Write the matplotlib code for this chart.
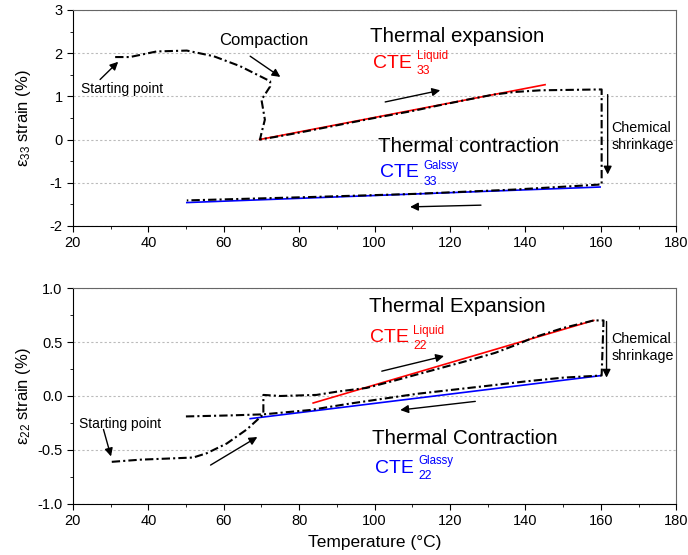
import matplotlib
matplotlib.use("Agg")
import matplotlib.pyplot as plt
from matplotlib.ticker import MultipleLocator, FormatStrFormatter

plt.rcParams.update({"font.family": "Liberation Sans", "mathtext.default": "regular",
                     "axes.unicode_minus": False})

# curva medida eps33 (aquecimento, compactacao, queda quimica, resfriamento)
T33 = [31.2, 35.1, 42.2, 50.2, 57.3, 64.3, 72.3, 72.3, 70.0, 70.9, 70.0, 69.6, 75, 80, 90,
       100, 110, 117, 125, 131.5, 137, 144, 152, 160.2, 160.2, 154.5, 136.8, 110.3, 83.7, 50.2]
E33 = [1.91, 1.91, 2.04, 2.06, 1.93, 1.70, 1.35, 1.23, 0.92, 0.46, 0.15, 0.0, 0.08, 0.16, 0.33,
       0.50, 0.66, 0.79, 0.93, 1.04, 1.10, 1.14, 1.15, 1.16, -1.04, -1.07, -1.16, -1.26, -1.33, -1.41]
LIQ33_T, LIQ33_E = [69.5, 145.2], [0.0, 1.27]
GLA33_T, GLA33_E = [50.2, 159.8], [-1.46, -1.10]

# curva medida eps22
T22 = [30.3, 37.8, 44.9, 51.9, 55.5, 60.8, 66.1, 70.5, 70.5, 75, 84.6, 90, 97.9, 105, 115, 125,
       132, 138, 142, 150, 158.1, 160.7, 160.2, 150, 140, 128.9, 111.2, 93.5, 82.9, 70.5, 61.6, 49.2]
E22 = [-0.61, -0.59, -0.58, -0.57, -0.53, -0.44, -0.31, -0.17, 0.01, 0.0, 0.01, 0.04, 0.075, 0.14,
       0.235, 0.33, 0.40, 0.48, 0.54, 0.63, 0.70, 0.70, 0.19, 0.17, 0.135, 0.09, 0.02, -0.07, -0.13,
       -0.17, -0.18, -0.19]
LIQ22_T, LIQ22_E = [83.7, 158.1], [-0.065, 0.70]
GLA22_T, GLA22_E = [67.0, 159.8], [-0.21, 0.188]

DASH = (4, 1.5, 1, 1.5)
ARR = dict(arrowstyle="-|>", color="k", lw=1.0, mutation_scale=12, shrinkA=0, shrinkB=0)


def seta(ax, a, b):
    ax.annotate("", xy=b, xytext=a, arrowprops=ARR)


def cte(ax, x, y, cor, sup, sub, xs, ysup, ysub):
    ax.text(x, y, "CTE", color=cor, fontsize=14, va="center", ha="left")
    ax.text(xs, ysup, sup, color=cor, fontsize=8.3, va="center", ha="left")
    ax.text(xs, ysub, sub, color=cor, fontsize=8.8, va="center", ha="left")


def estilo(ax, ylim, ymaj, ymin, fmt):
    ax.set_xlim(20, 180)
    ax.set_ylim(*ylim)
    ax.xaxis.set_major_locator(MultipleLocator(20))
    ax.xaxis.set_minor_locator(MultipleLocator(10))
    ax.yaxis.set_major_locator(MultipleLocator(ymaj))
    ax.yaxis.set_minor_locator(MultipleLocator(ymin))
    ax.yaxis.set_major_formatter(FormatStrFormatter(fmt))
    ax.tick_params(which="both", direction="out", top=False, right=False, labelsize=10.5)
    ax.tick_params(which="major", length=4)
    ax.tick_params(which="minor", length=2.5)
    ax.grid(axis="y", color="#bbbbbb", lw=0.8, ls=(0, (2, 2)))
    ax.set_axisbelow(True)
    for s in ("top", "right"):
        ax.spines[s].set_color("#666666")


fig = plt.figure(figsize=(6.88, 5.55), dpi=100)
ax1 = fig.add_axes([0.106, 0.593, 0.877, 0.389])
ax2 = fig.add_axes([0.106, 0.092, 0.877, 0.389])

# painel superior
estilo(ax1, (-2, 3), 1, 0.5, "%d")
ax1.plot(T33, E33, color="k", lw=1.5, dashes=DASH, zorder=3)
ax1.plot(LIQ33_T, LIQ33_E, color="red", lw=1.2, zorder=2)
ax1.plot(GLA33_T, GLA33_E, color="blue", lw=1.2, zorder=2)
ax1.text(70.6, 2.29, "Compaction", fontsize=12, ha="center", va="center")
seta(ax1, (67, 1.93), (75, 1.45))
ax1.text(33, 1.16, "Starting point", fontsize=10, ha="center", va="center")
seta(ax1, (27.2, 1.39), (32.0, 1.80))
ax1.text(98.8, 2.38, "Thermal expansion", fontsize=14.8, ha="left", va="center")
cte(ax1, 99.6, 1.77, "red", "Liquid", "33", 111.2, 1.93, 1.58)
seta(ax1, (102.8, 0.87), (117.4, 1.14))
ax1.text(101, -0.15, "Thermal contraction", fontsize=14.8, ha="left", va="center")
cte(ax1, 101.5, -0.77, "blue", "Galssy", "33", 112.9, -0.62, -0.99)
seta(ax1, (128.2, -1.52), (109.4, -1.56))
seta(ax1, (161.8, 1.04), (161.8, -0.81))
ax1.text(162.8, 0.07, "Chemical\nshrinkage", fontsize=10.3, ha="left", va="center", linespacing=1.3)
ax1.set_ylabel("ε$_{33}$ strain (%)", fontsize=12)
ax1.yaxis.set_label_coords(-0.066, 0.5)

# painel inferior
estilo(ax2, (-1, 1), 0.5, 0.25, "%.1f")
ax2.plot(T22, E22, color="k", lw=1.5, dashes=DASH, zorder=3)
ax2.plot(LIQ22_T, LIQ22_E, color="red", lw=1.2, zorder=2)
ax2.plot(GLA22_T, GLA22_E, color="blue", lw=1.2, zorder=2)
ax2.text(32.5, -0.256, "Starting point", fontsize=10, ha="center", va="center")
seta(ax2, (28.1, -0.31), (30.1, -0.56))
seta(ax2, (56.5, -0.64), (68.9, -0.38))
ax2.text(98.4, 0.83, "Thermal Expansion", fontsize=14.8, ha="left", va="center")
cte(ax2, 98.7, 0.54, "red", "Liquid", "22", 110.3, 0.60, 0.46)
seta(ax2, (101.9, 0.23), (118.4, 0.37))
seta(ax2, (126.7, -0.05), (106.8, -0.13))
ax2.text(99.3, -0.39, "Thermal Contraction", fontsize=14.8, ha="left", va="center")
cte(ax2, 100.2, -0.67, "blue", "Glassy", "22", 111.6, -0.605, -0.745)
seta(ax2, (161.5, 0.69), (161.5, 0.17))
ax2.text(162.8, 0.45, "Chemical\nshrinkage", fontsize=10.3, ha="left", va="center", linespacing=1.3)
ax2.set_ylabel("ε$_{22}$ strain (%)", fontsize=12)
ax2.yaxis.set_label_coords(-0.066, 0.5)
ax2.set_xlabel("Temperature (°C)", fontsize=12.5, labelpad=5)

fig.savefig("out.png", dpi=100)
